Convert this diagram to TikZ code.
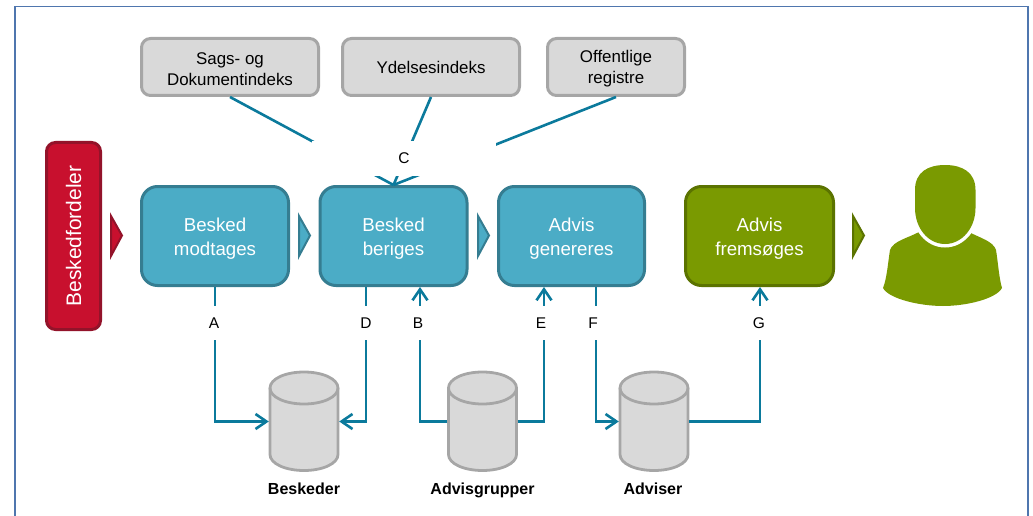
\documentclass[tikz,border=0pt]{standalone}
\usepackage{fontspec}
\setmainfont{Liberation Sans}
\usetikzlibrary{arrows.meta,calc}
\definecolor{framec}{HTML}{4F76AE}
\definecolor{conn}{HTML}{0B7A9C}
\definecolor{tealf}{HTML}{4BACC6}
\definecolor{teald}{HTML}{357D91}
\definecolor{greenf}{HTML}{7A9A01}
\definecolor{greend}{HTML}{5B7300}
\definecolor{redf}{HTML}{C8102E}
\definecolor{redd}{HTML}{93132A}
\definecolor{greyf}{HTML}{D9D9D9}
\definecolor{greyd}{HTML}{A6A6A6}
\newcommand{\lowA}{\rule{0pt}{18pt}}
\newcommand{\lowB}{\rule{0pt}{15.5pt}}
\tikzset{
  x=1pt,y=-1pt,
  procbox/.style={draw=teald,fill=tealf,line width=3pt,rounded corners=16pt,minimum width=147pt,minimum height=99pt,inner sep=0pt,align=center,text=white,font=\fontsize{18.7}{24}\selectfont},
  greenbox/.style={procbox,draw=greend,fill=greenf},
  indexbox/.style={draw=greyd,fill=greyf,line width=3pt,rounded corners=9pt,minimum height=57pt,inner sep=0pt,align=center,text=black,font=\fontsize{16.9}{21}\selectfont},
  dbase/.style={inner sep=0pt,minimum width=70pt,minimum height=101pt},
  dbline/.style={draw=greyd,line width=2.8pt},
  letterlabel/.style={fill=white,inner sep=0pt,minimum width=16pt,minimum height=34pt,text=black,font=\fontsize{15.5}{18}\selectfont},
  dblabel/.style={text=black,inner sep=0pt,anchor=base,font=\bfseries\fontsize{16}{18}\selectfont},
  wire/.style={draw=conn,line width=2.6pt},
  wirearrow/.style={wire,-{Straight Barb[length=11pt,width=15pt,line width=2.6pt]}},
  chevron/.style={line width=2pt,miter limit=10,line join=miter},
}
\newcommand{\dbshape}[1]{%
  \begin{scope}[shift={(#1.center)}]
    \fill[greyf,dbline] (-34,-33.5) -- (-34,33) .. controls (-34,42) and (-19,49) .. (0,49) .. controls (19,49) and (34,42) .. (34,33) -- (34,-33.5) .. controls (34,-42.5) and (19,-49.5) .. (0,-49.5) .. controls (-19,-49.5) and (-34,-42.5) .. (-34,-33.5) -- cycle;
    \draw[dbline] (-34,-33.5) .. controls (-34,-24.5) and (-19,-17.5) .. (0,-17.5) .. controls (19,-17.5) and (34,-24.5) .. (34,-33.5);
  \end{scope}}
\begin{document}
\begin{tikzpicture}
\useasboundingbox (0,0) rectangle (1033,516);
% frame
\draw[framec,line width=1.6pt] (15,516) -- (15,6.5) -- (1028,6.5) -- (1028,516);
% index boxes
\node[indexbox,minimum width=177pt] (sags) at (230,67) {\lowB Sags- og\\Dokumentindeks};
\node[indexbox,minimum width=177pt] (ydel) at (431,67) {\rule{0pt}{14pt}Ydelsesindeks};
\node[indexbox,minimum width=137pt] (off) at (616,67) {\lowB Offentlige\\registre};
% process boxes
\node[draw=redd,fill=redf,line width=3pt,rounded corners=9pt,minimum width=54pt,minimum height=187pt,inner sep=0pt] (dist) at (73.5,236) {};
\node[text=white,rotate=90,inner sep=0pt,font=\fontsize{21}{26}\selectfont] (distl) at (dist.center) {Beskedfordeler};
\node[procbox] (modt) at (215,236) {\lowA Besked\\modtages};
\node[procbox] (beri) at (393.5,236) {\lowA Besked\\beriges};
\node[procbox,minimum width=146pt] (gene) at (571.5,236) {\lowA Advis\\genereres};
\node[greenbox,minimum width=148pt] (frem) at (759.5,236) {\lowA Advis\\fremsøges};
% chevrons
\draw[chevron,draw=redd,fill=redf] (111,216) -- (122,235.5) -- (111,256) -- cycle;
\draw[chevron,draw=teald,fill=tealf] (299,216) -- (310,235.5) -- (299,256) -- cycle;
\draw[chevron,draw=teald,fill=tealf] (478,216) -- (489,235.5) -- (478,256) -- cycle;
\draw[chevron,draw=greend,fill=greenf] (853,216) -- (864,235.5) -- (853,256) -- cycle;
% person
\fill[greenf] (919,232) .. controls (908,238) and (893,241) .. (890,250) .. controls (888,262) and (887,278) .. (883,288) .. controls (889,299) and (920,306) .. (943,306) .. controls (966,306) and (996,299) .. (1002,288) .. controls (999,278) and (998,262) .. (996,250) .. controls (993,241) and (980,238) .. (969,232) -- cycle;
\draw[white,line width=7pt] (915,190) -- (915,208) .. controls (915,228) and (928,244) .. (945,244) .. controls (962,244) and (975.5,228) .. (975.5,208) -- (975.5,190);
\fill[greenf] (915,190) .. controls (915,172) and (928,165) .. (945,165) .. controls (962,165) and (975.5,172) .. (975.5,190) -- (975.5,208) .. controls (975.5,228) and (962,244) .. (945,244) .. controls (928,244) and (915,228) .. (915,208) -- cycle;
% databases
\node[dbase] (besk) at (304,421.5) {};
\node[dbase] (agrp) at (482.5,421.5) {};
\node[dbase] (advs) at (654,421.5) {};
\dbshape{besk}
\dbshape{agrp}
\dbshape{advs}
\node[dblabel] (beskl) at (304,494) {Beskeder};
\node[dblabel] (agrpl) at (482.5,494) {Advisgrupper};
\node[dblabel] (advsl) at (653,494) {Adviser};
% routing x positions
\coordinate (xa) at (215,323);
\coordinate (xd) at (366,323);
\coordinate (xb) at (420,323);
\coordinate (xe) at (544,323);
\coordinate (xf) at (596,323);
\coordinate (xg) at (760,323);
% connectors
\draw[wirearrow] (modt.south -| xa) |- (besk.west);
\draw[wirearrow] (beri.south -| xd) |- (besk.east);
\draw[wirearrow] (agrp.west) -| (beri.south -| xb);
\draw[wirearrow] (agrp.east) -| (gene.south -| xe);
\draw[wirearrow] (gene.south -| xf) |- (advs.west);
\draw[wirearrow] (advs.east) -| (frem.south -| xg);
\draw[wire] (sags.south) -- (beri.north);
\draw[wire] (ydel.south) -- (beri.north);
\draw[wire] (off.south) -- (beri.north);
% labels over the connectors
\node[letterlabel] (la) at (214,323) {A};
\node[letterlabel] (ld) at (366,323) {D};
\node[letterlabel] (lb) at (418,323) {B};
\node[letterlabel] (le) at (541,323) {E};
\node[letterlabel] (lf) at (593,323) {F};
\node[letterlabel] (lg) at (759,323) {G};
\node[letterlabel,minimum width=184pt] (lc) at (404,158.5) {C};
\end{tikzpicture}
\end{document}
